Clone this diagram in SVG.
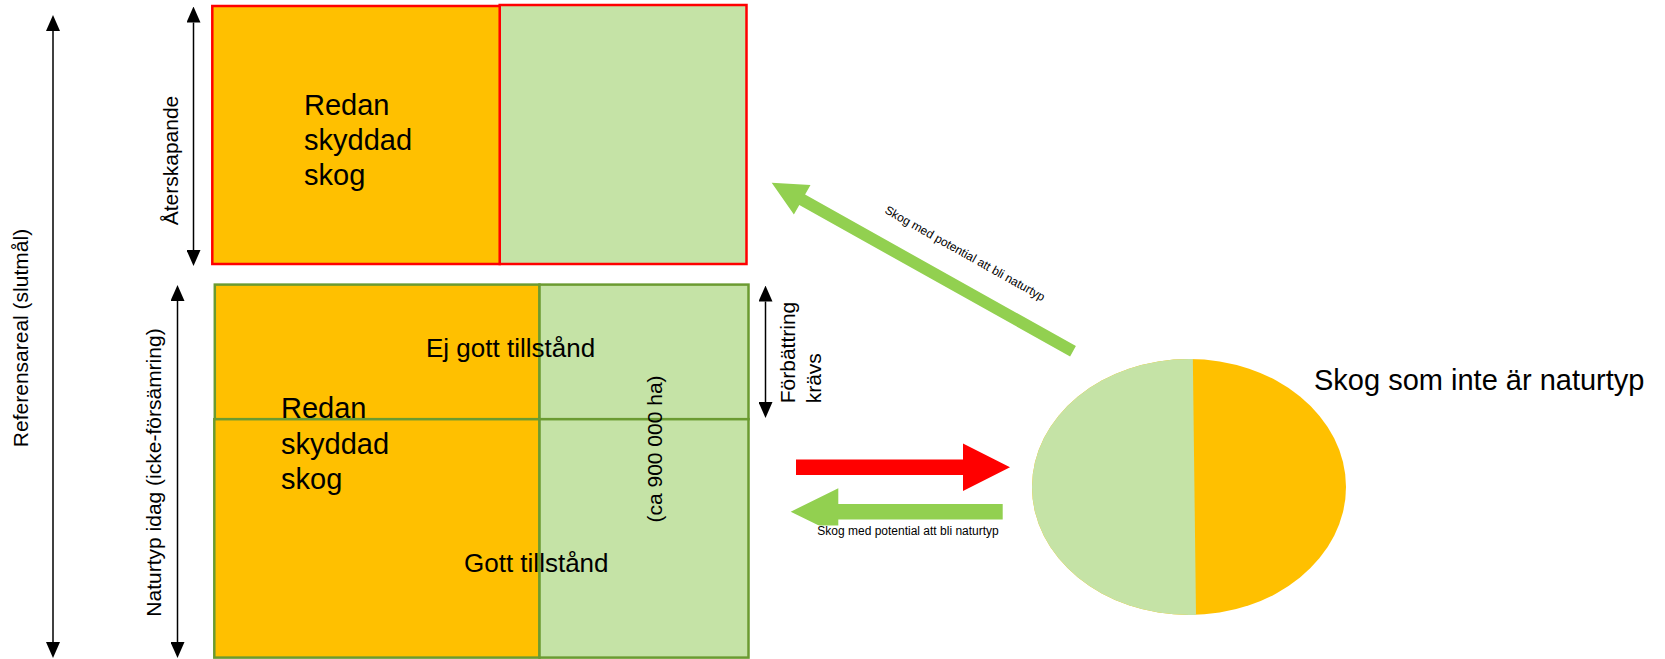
<svg xmlns="http://www.w3.org/2000/svg" width="1665" height="659" viewBox="0 0 1665 659">
  <style>
    text { font-family: "Liberation Sans", Arial, sans-serif; fill: #000; }
    .orange { fill: #FFC000; }
    .lgreen { fill: #C5E3A6; }
    .redbox { stroke: #FF0000; stroke-width: 2.5; }
    .grnbox { stroke: #6B9B31; stroke-width: 2.5; }
    .dim { stroke: #000; stroke-width: 1.5; fill: none; }
    .big { font-size: 29px; }
    .mid { font-size: 26px; }
    .lab { font-size: 21px; }
    .small { font-size: 12px; }
  </style>
  <defs>
    <marker id="ah" markerUnits="userSpaceOnUse" markerWidth="16" markerHeight="14" viewBox="0 0 16 14" refX="0" refY="7" orient="auto-start-reverse">
      <path d="M0,0 L16,7 L0,14 z" fill="#000"/>
    </marker>
    <clipPath id="leftHalf">
      <polygon points="1000,340 1192.6,340 1196.3,640 1000,640"/>
    </clipPath>
  </defs>
  <rect width="1665" height="659" fill="#fff"/>

  <!-- Top block -->
  <g id="top-block">
    <rect class="lgreen redbox" x="499.7" y="5" width="246.8" height="259"/>
    <rect class="orange redbox" x="212.3" y="6" width="287.4" height="258"/>
    <text class="big" x="304" y="115">Redan</text>
    <text class="big" x="304" y="150">skyddad</text>
    <text class="big" x="304" y="185">skog</text>
  </g>

  <!-- Bottom block: upper band (Ej gott tillstånd) -->
  <g id="band-ej-gott">
    <rect class="orange grnbox" x="214.8" y="284.6" width="324.7" height="134.6"/>
    <rect class="lgreen grnbox" x="539.5" y="284.6" width="209" height="134.6"/>
  </g>

  <!-- Bottom block: lower band (Gott tillstånd) -->
  <g id="band-gott">
    <rect class="orange grnbox" x="214.3" y="419.2" width="325.2" height="238.4"/>
    <rect class="lgreen grnbox" x="539.5" y="419.2" width="209" height="238.4"/>
  </g>

  <g id="bottom-labels">
    <text class="mid" x="426" y="357">Ej gott tillstånd</text>
    <text class="mid" x="464" y="572">Gott tillstånd</text>
    <text class="big" x="281" y="418">Redan</text>
    <text class="big" x="281" y="453.5">skyddad</text>
    <text class="big" x="281" y="489">skog</text>
    <text class="lab" text-anchor="middle" transform="translate(661.5,449) rotate(-90)">(ca 900 000 ha)</text>
  </g>

  <!-- Dimension arrows -->
  <g id="dimensions">
    <line class="dim" x1="53" y1="31" x2="53" y2="642" marker-start="url(#ah)" marker-end="url(#ah)"/>
    <text class="lab" text-anchor="middle" transform="translate(27.5,338) rotate(-90)">Referensareal (slutmål)</text>

    <line class="dim" x1="193.5" y1="22.5" x2="193.5" y2="250" marker-start="url(#ah)" marker-end="url(#ah)"/>
    <text class="lab" text-anchor="middle" transform="translate(177.5,160.5) rotate(-90)">Återskapande</text>

    <line class="dim" x1="177.5" y1="301" x2="177.5" y2="642" marker-start="url(#ah)" marker-end="url(#ah)"/>
    <text class="lab" text-anchor="middle" transform="translate(161.3,472.5) rotate(-90)">Naturtyp idag (icke-försämring)</text>

    <line class="dim" x1="765.5" y1="301.5" x2="765.5" y2="402" marker-start="url(#ah)" marker-end="url(#ah)"/>
    <text class="lab" transform="translate(795,403.3) rotate(-90)">Förbättring</text>
    <text class="lab" transform="translate(820.5,403.3) rotate(-90)">krävs</text>
  </g>

  <!-- Pie node -->
  <g id="skog-ej-naturtyp">
    <ellipse class="orange" cx="1189" cy="487" rx="157" ry="128"/>
    <ellipse class="lgreen" cx="1189" cy="487" rx="157" ry="128" clip-path="url(#leftHalf)"/>
    <text class="big" x="1314" y="390">Skog som inte är naturtyp</text>
  </g>

  <!-- Connectors -->
  <g id="connectors">
    <polygon id="arrow-red" fill="#FF0000" points="796,459.5 963,459.5 963,443.5 1010,467.2 963,490.9 963,475 796,475"/>
    <polygon id="arrow-green-left" fill="#92D050" points="790.7,511.7 838.3,488.3 838.3,504 1002.7,504 1002.7,519.4 838.3,519.4 838.3,535.1"/>
    <rect x="812" y="525.5" width="190" height="14" fill="#fff"/>
    <text class="small" x="817.3" y="535">Skog med potential att bli naturtyp</text>
    <polygon id="arrow-green-diag" fill="#92D050" points="771.7,182.7 810.5,185 805.1,194.6 1075.9,346.1 1070.1,356.5 799.3,205 793.9,214.6"/>
    <text class="small" text-anchor="middle" transform="translate(963,257) rotate(29.3)">Skog med potential att bli naturtyp</text>
  </g>
</svg>
